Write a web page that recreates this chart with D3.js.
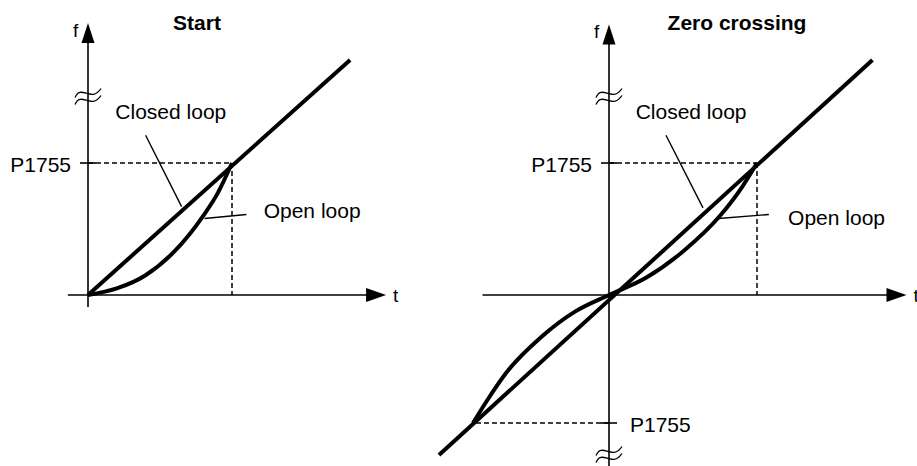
<!DOCTYPE html>
<html>
<head>
<meta charset="utf-8">
<script src="https://cdn.jsdelivr.net/npm/d3@7"></script>
<style>
  body { margin: 0; background: #fff; }
  svg { display: block; }
  text { font-family: "Liberation Sans", Arial, sans-serif; fill: #000; }
</style>
</head>
<body>
<div id="chart"></div>
<script>
// values in units of P1755 (t: time to reach P1755, f: P1755)
var titles = ["Start", "Zero crossing"];
var closedLoopStart = [[0, 0], [1.82, 1.78]];
var openLoopStart = [[0, 0], [0.2, 0.05], [0.4, 0.15], [0.6, 0.33], [0.8, 0.6], [0.9, 0.77], [1, 1]];
var closedLoopZero = [[-1.25, -1.25], [1.78, 1.78]];
var openLoopZero = [[-1, -1], [-0.9, -0.83], [-0.75, -0.6], [-0.5, -0.33], [-0.25, -0.13], [0, 0],
                    [0.25, 0.13], [0.5, 0.33], [0.75, 0.6], [0.9, 0.82], [1, 1]];
var p1755Label = "P1755";
var curveLabels = ["Closed loop", "Open loop"];

var svgWidth = 917, svgHeight = 466;
var svg = d3.select("#chart").append("svg")
    .attr("width", svgWidth)
    .attr("height", svgHeight);

var fontSize = 21;

function drawPanel(cfg){
    var x = cfg.x, y = cfg.y;
    var g = svg.append("g");

    // axes
    g.append("line")
        .attr("x1", x(cfg.tRange[0])).attr("x2", x(cfg.tRange[1]) - 18)
        .attr("y1", y(0)).attr("y2", y(0))
        .attr("stroke", "#000").attr("stroke-width", 1.6);
    g.append("line")
        .attr("x1", x(0)).attr("x2", x(0))
        .attr("y1", y(cfg.fRange[0])).attr("y2", y(cfg.fRange[1]) + 18)
        .attr("stroke", "#000").attr("stroke-width", 1.6);

    // arrow heads
    var tx = x(cfg.tRange[1]), ty = y(0);
    g.append("path")
        .attr("d", `M${tx},${ty} L${tx-20},${ty-7} L${tx-20},${ty+7} Z`)
        .attr("fill", "#000");
    var fx = x(0), fy = y(cfg.fRange[1]);
    g.append("path")
        .attr("d", `M${fx},${fy} L${fx-6.5},${fy+20} L${fx+6.5},${fy+20} Z`)
        .attr("fill", "#000");

    g.append("text")
        .attr("x", tx + 7).attr("y", ty + 7)
        .attr("font-size", 19)
        .text("t");
    g.append("text")
        .attr("x", fx - 15).attr("y", fy + 14)
        .attr("font-size", 19)
        .text("f");

    // title
    g.append("text")
        .attr("x", cfg.titleX).attr("y", 30)
        .attr("text-anchor", "middle")
        .attr("font-size", fontSize)
        .attr("font-weight", "bold")
        .text(cfg.title);

    // axis break symbols
    cfg.breaks.forEach(function(b){
        var bx = x(0), by = y(b);
        [-3.5, 3.5].forEach(function(off){
            g.append("path")
                .attr("d", `M${bx-13},${by+off+4} C${bx-7},${by+off-10} ${bx+3},${by+off+10} ${bx+13},${by+off-5}`)
                .attr("fill", "none")
                .attr("stroke", "#000")
                .attr("stroke-width", 1.3);
        });
    });

    // P1755 reference levels (dashed)
    cfg.levels.forEach(function(lv){
        g.append("line")
            .attr("x1", x(0)).attr("x2", x(lv))
            .attr("y1", y(lv)).attr("y2", y(lv))
            .attr("stroke", "#000").attr("stroke-width", 1.5)
            .attr("stroke-dasharray", "5,3");
        if (lv > 0){
            g.append("line")
                .attr("x1", x(lv)).attr("x2", x(lv))
                .attr("y1", y(lv)).attr("y2", y(0))
                .attr("stroke", "#000").attr("stroke-width", 1.5)
                .attr("stroke-dasharray", "5,3");
        }
        g.append("line")
            .attr("x1", x(0) - 8).attr("x2", x(0) + 8)
            .attr("y1", y(lv)).attr("y2", y(lv))
            .attr("stroke", "#000").attr("stroke-width", 1.6);
        if (lv > 0){
            g.append("text")
                .attr("x", x(0) - 17).attr("y", y(lv) + 9)
                .attr("text-anchor", "end")
                .attr("font-size", fontSize)
                .text(p1755Label);
        } else {
            g.append("text")
                .attr("x", x(0) + 21).attr("y", y(lv) + 9)
                .attr("font-size", fontSize)
                .text(p1755Label);
        }
    });

    var line = d3.line()
        .x(d => x(d[0]))
        .y(d => y(d[1]));

    g.append("path")
        .datum(cfg.closed)
        .attr("d", line)
        .attr("fill", "none").attr("stroke", "#000").attr("stroke-width", 4);
    g.append("path")
        .datum(cfg.open)
        .attr("d", line.curve(d3.curveMonotoneX))
        .attr("fill", "none").attr("stroke", "#000").attr("stroke-width", 4);

    // leader lines and labels
    cfg.leaders.forEach(function(l, i){
        g.append("line")
            .attr("x1", x(l[0][0])).attr("y1", y(l[0][1]))
            .attr("x2", x(l[1][0])).attr("y2", y(l[1][1]))
            .attr("stroke", "#000").attr("stroke-width", 1.4);
        g.append("text")
            .attr("x", x(cfg.labelPos[i][0])).attr("y", y(cfg.labelPos[i][1]))
            .attr("font-size", fontSize)
            .text(curveLabels[i]);
    });
}

// Start panel
drawPanel({
    x: d3.scaleLinear().domain([0, 1]).range([88, 232]),
    y: d3.scaleLinear().domain([0, 1]).range([295, 163]),
    tRange: [-0.14, 2.07],
    fRange: [-0.09, 2.06],
    title: titles[0],
    titleX: 197,
    breaks: [1.5],
    levels: [1],
    closed: closedLoopStart,
    open: openLoopStart,
    leaders: [[[0.40, 1.21], [0.65, 0.67]], [[0.81, 0.58], [1.10, 0.61]]],
    labelPos: [[0.19, 1.33], [1.22, 0.58]]
});

// Zero crossing panel
drawPanel({
    x: d3.scaleLinear().domain([-1, 0, 1]).range([473, 609, 757]),
    y: d3.scaleLinear().domain([-1, 0, 1]).range([423, 295, 163]),
    tRange: [-0.93, 2.01],
    fRange: [-1.34, 2.05],
    title: titles[1],
    titleX: 737,
    breaks: [1.5, -1.25],
    levels: [1, -1],
    closed: closedLoopZero,
    open: openLoopZero,
    leaders: [[[0.385, 1.21], [0.635, 0.66]], [[0.74, 0.58], [1.08, 0.61]]],
    labelPos: [[0.18, 1.33], [1.21, 0.53]]
});
</script>
</body>
</html>
